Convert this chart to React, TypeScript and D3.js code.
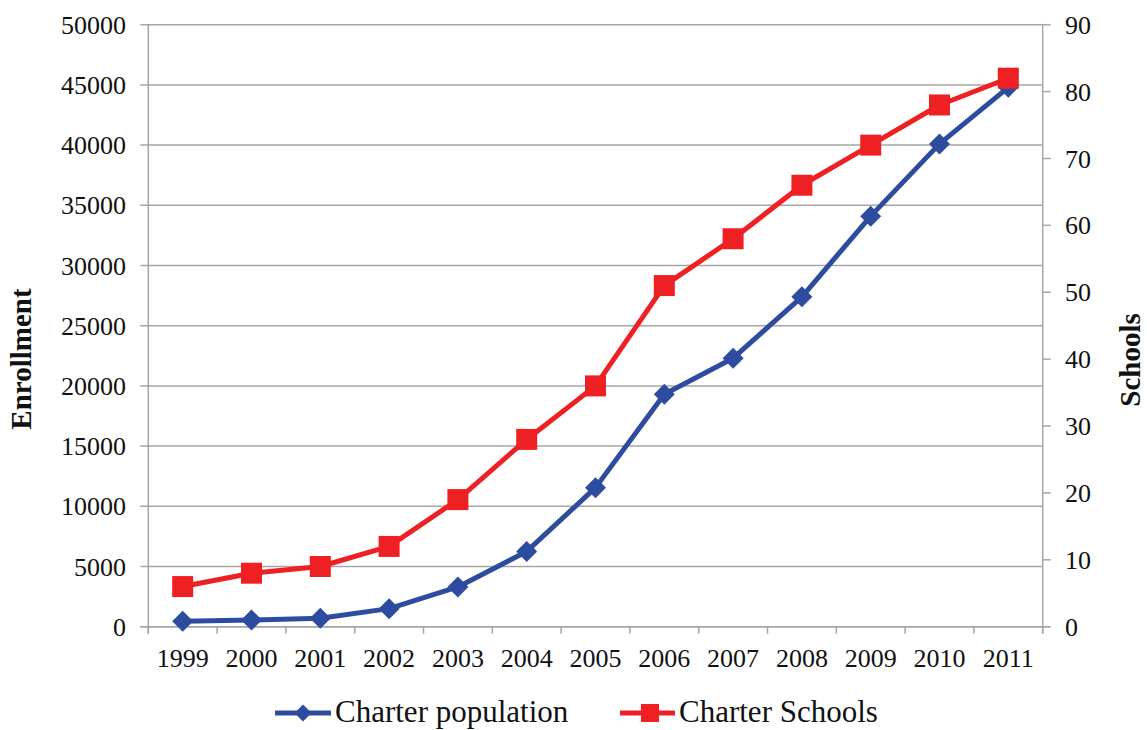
import React from "react";
import * as d3 from "d3";

const years = ["1999", "2000", "2001", "2002", "2003", "2004", "2005", "2006", "2007", "2008", "2009", "2010", "2011"];
const enrollment = [450, 550, 700, 1500, 3300, 6250, 11550, 19300, 22300, 27400, 34100, 40100, 44800];
const schools = [6, 8, 9, 12, 19, 28, 36, 51, 58, 66, 72, 78, 82];
const leftTicks = [0, 5000, 10000, 15000, 20000, 25000, 30000, 35000, 40000, 45000, 50000];
const rightTicks = [0, 10, 20, 30, 40, 50, 60, 70, 80, 90];

const W = 1147;
const H = 730;
const plot = { left: 148.3, right: 1042.7, top: 24.7, bottom: 626.7 };

const BLUE = "#2E4C9F";
const RED = "#EE2024";
const GRID = "#A6A6A6";
const FONT = "'Liberation Serif', 'Times New Roman', serif";

export default function App() {
  const x = d3.scaleBand<string>().domain(years).range([plot.left, plot.right]);
  const yL = d3.scaleLinear().domain([0, 50000]).range([plot.bottom, plot.top]);
  const yR = d3.scaleLinear().domain([0, 90]).range([plot.bottom, plot.top]);
  const cx = (yr: string) => (x(yr) as number) + x.bandwidth() / 2;

  const lineL = d3.line<number>().x((_, i) => cx(years[i])).y((d) => yL(d));
  const lineR = d3.line<number>().x((_, i) => cx(years[i])).y((d) => yR(d));

  const diamond = (px: number, py: number, r: number) =>
    `M${px},${py - r}L${px + r},${py}L${px},${py + r}L${px - r},${py}Z`;

  const boundaries = [...years.map((y) => x(y) as number), plot.right];

  return (
    <svg width={W} height={H} style={{ position: "absolute", left: 0, top: 0, background: "#fff" }}>
      {/* horizontal gridlines on the enrollment scale */}
      {leftTicks.map((t) => (
        <line key={"g" + t} x1={plot.left - 8} x2={plot.right} y1={yL(t)} y2={yL(t)} stroke={GRID} strokeWidth={1.5} />
      ))}
      {/* left axis */}
      <line x1={plot.left} x2={plot.left} y1={plot.top} y2={plot.bottom + 7} stroke={GRID} strokeWidth={1.5} />
      {leftTicks.map((t) => (
        <text key={"l" + t} x={126} y={yL(t)} dy="0.35em" textAnchor="end" fontFamily={FONT} fontSize={26} fill="#111">
          {t}
        </text>
      ))}
      {/* right axis */}
      <line x1={plot.right} x2={plot.right} y1={plot.top} y2={plot.bottom + 7} stroke={GRID} strokeWidth={1.5} />
      {rightTicks.map((t) => (
        <g key={"r" + t}>
          <line x1={plot.right} x2={plot.right + 8} y1={yR(t)} y2={yR(t)} stroke={GRID} strokeWidth={1.5} />
          <text x={1065} y={yR(t)} dy="0.35em" textAnchor="start" fontFamily={FONT} fontSize={26} fill="#111">
            {t}
          </text>
        </g>
      ))}
      {/* category axis */}
      <line x1={plot.left - 8} x2={plot.right + 8} y1={plot.bottom} y2={plot.bottom} stroke={GRID} strokeWidth={1.5} />
      {boundaries.map((b, i) => (
        <line key={"c" + i} x1={b} x2={b} y1={plot.bottom} y2={plot.bottom + 7} stroke={GRID} strokeWidth={1.5} />
      ))}
      {years.map((yr) => (
        <text key={"y" + yr} x={cx(yr)} y={667} textAnchor="middle" fontFamily={FONT} fontSize={26} fill="#111">
          {yr}
        </text>
      ))}
      {/* axis titles */}
      <text
        transform={`translate(31,359) rotate(-90)`}
        textAnchor="middle"
        fontFamily={FONT}
        fontWeight="bold"
        fontSize={29}
        fill="#111"
      >
        Enrollment
      </text>
      <text
        transform={`translate(1140,360) rotate(-90)`}
        textAnchor="middle"
        fontFamily={FONT}
        fontWeight="bold"
        fontSize={29}
        fill="#111"
      >
        Schools
      </text>
      {/* enrollment series */}
      <path d={lineL(enrollment) as string} fill="none" stroke={BLUE} strokeWidth={5} strokeLinejoin="round" />
      {enrollment.map((v, i) => (
        <path key={"d" + i} d={diamond(cx(years[i]), yL(v), 10.5)} fill={BLUE} />
      ))}
      {/* schools series */}
      <path d={lineR(schools) as string} fill="none" stroke={RED} strokeWidth={5} strokeLinejoin="round" />
      {schools.map((v, i) => (
        <rect key={"s" + i} x={cx(years[i]) - 10.5} y={yR(v) - 10.5} width={21} height={21} fill={RED} />
      ))}
      {/* legend */}
      <line x1={275} x2={331} y1={713} y2={713} stroke={BLUE} strokeWidth={5} />
      <path d={diamond(303, 713, 8.5)} fill={BLUE} />
      <text x={335} y={722} fontFamily={FONT} fontSize={31} fill="#111">
        Charter population
      </text>
      <line x1={620} x2={675} y1={713} y2={713} stroke={RED} strokeWidth={5} />
      <rect x={641} y={704} width={18} height={18} fill={RED} />
      <text x={679} y={722} fontFamily={FONT} fontSize={31} fill="#111">
        Charter Schools
      </text>
    </svg>
  );
}
